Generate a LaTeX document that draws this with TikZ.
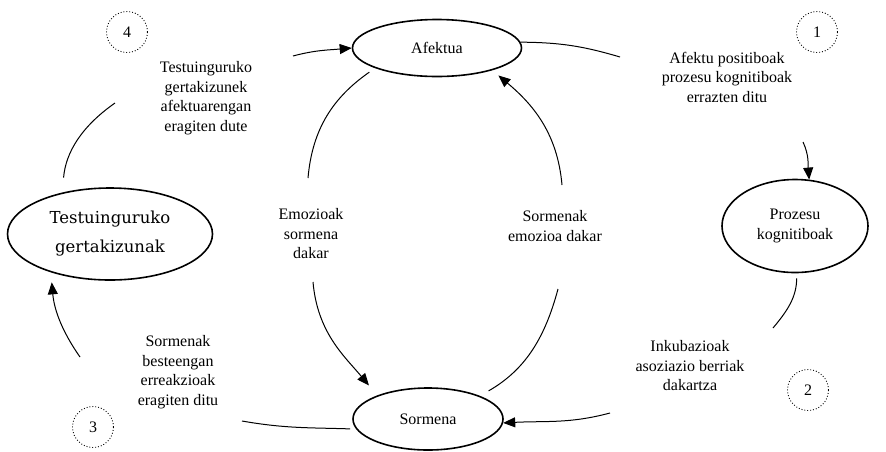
\documentclass[tikz,border=0pt]{standalone}
\usepackage{fontspec}
\setmainfont{Liberation Serif}
\newfontfamily\ovalfont{DejaVu Serif}
\usetikzlibrary{positioning, shapes.geometric, arrows.meta}

\begin{document}
\begin{tikzpicture}[x=1pt, y=1pt,
        oval/.style={draw, ellipse, line width=1.6pt, inner sep=0pt, align=center, font=\fontsize{16}{19.5}\selectfont},
        lbl/.style={align=center, font=\fontsize{16}{19.5}\selectfont},
        num/.style={draw, circle, dotted, line width=0.9pt, minimum size=41pt, inner sep=0pt, font=\fontsize{16}{19}\selectfont},
        link/.style={line width=1pt},
        tip/.style={-{Triangle[length=12pt,width=10pt]}}]
    \useasboundingbox (0,0) rectangle (886,-451);
    % ovals
    \node[oval, minimum width=169pt, minimum height=57pt] (afektua) at (437,-48) {Afektua};
    \node[oval, minimum width=146pt, minimum height=93pt] (prozesu) at (795,-226) {Prozesu\\kognitiboak};
    \node[oval, minimum width=150pt, minimum height=62pt] (sormena) at (428,-419) {Sormena};
    \node[oval, minimum width=205pt, minimum height=92pt, font=\ovalfont\fontsize{16.5}{29}\selectfont] (testu) at (110,-234) {Testuinguruko\\gertakizunak};
    % labels
    \node[lbl] (lab1) at (727,-77) {Afektu positiboak\\prozesu kognitiboak\\errazten ditu};
    \node[lbl] (lab2) at (690,-366) {Inkubazioak\\asoziazio berriak\\dakartza};
    \node[lbl] (lab3) at (178,-372) {Sormenak\\besteengan\\erreakzioak\\eragiten ditu};
    \node[lbl] (lab4) at (206,-98) {Testuinguruko\\gertakizunek\\afektuarengan\\eragiten dute};
    \node[lbl] (lab5) at (311,-234) {Emozioak\\sormena\\dakar};
    \node[lbl] (lab6) at (555,-226) {Sormenak\\emozioa dakar};
    \foreach \n/\x/\y in {1/817/-32, 2/808/-390, 3/93/-427, 4/127/-32}
        \node[num] (n\n) at (\x,\y) {\n};
    % break points
    \coordinate (c1a) at (620,-57);  \coordinate (c1b) at (803,-142);
    \coordinate (c2a) at (773,-328); \coordinate (c2b) at (610,-413);
    \coordinate (c3a) at (242,-421); \coordinate (c3b) at (80,-357);
    \coordinate (c4a) at (115,-103); \coordinate (c4b) at (293,-56);
    \coordinate (c5a) at (308,-178); \coordinate (c5b) at (313,-282);
    \coordinate (c6a) at (558,-289); \coordinate (c6b) at (562,-185);
    % outer loop
    \draw[link] (afektua.4) to[bend left=8] (c1a);
    \draw[link,tip] (c1b) to[out=-65,in=95] (prozesu.73);
    \draw[link,shorten <=5pt] (prozesu.-88) to[out=-90,in=50] (c2a);
    \draw[link,tip] (c2b) to[out=195,in=3] (sormena.-3);
    \draw[link,shorten <=6pt] (sormena.188) to[out=178,in=-10] (c3a);
    \draw[link,tip,shorten >=10pt] (c3b) to[out=125,in=-85] (testu.213);
    \draw[link,shorten <=15pt] (testu.139) to[out=85,in=215] (c4a);
    \draw[link,tip] (c4b) to[out=15,in=185] (afektua.west);
    % inner loop
    \draw[link,shorten <=7pt] (afektua.198) to[out=215,in=85] (c5a);
    \draw[link,tip,shorten >=13pt] (c5b) to[out=-85,in=130] (sormena.155);
    \draw[link,shorten <=10pt] (sormena.24) to[out=30,in=255] (c6a);
    \draw[link,tip,shorten >=8pt] (c6b) to[out=95,in=-40] (afektua.-22);
\end{tikzpicture}
\end{document}
